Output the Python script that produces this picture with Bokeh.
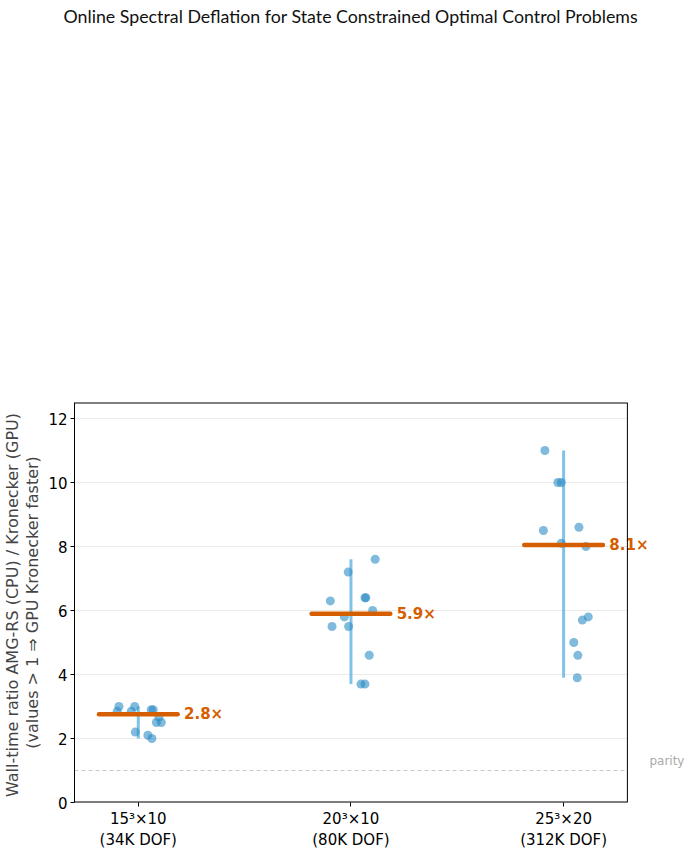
from bokeh.plotting import figure
from bokeh.models import Range1d, FixedTicker, ColumnDataSource, Title
from bokeh.layouts import column
from bokeh.embed import file_html
from bokeh.resources import INLINE
from bokeh.core.properties import value
import numpy as np

# ---- data ----
categories = ["15³×10\n(34K DOF)", "20³×10\n(80K DOF)", "25³×20\n(312K DOF)"]
ratios_15 = [3.0, 3.0, 2.9, 2.9, 2.85, 2.85, 2.66, 2.5, 2.5, 2.2, 2.1, 2.0]
ratios_20 = [7.6, 7.2, 6.3, 6.4, 6.4, 6.0, 5.8, 5.5, 5.5, 4.6, 3.7, 3.7]
ratios_25 = [11.0, 10.0, 10.0, 8.5, 8.6, 8.1, 8.0, 5.8, 5.7, 5.0, 4.6, 3.9]
jitter_15 = [-0.091, -0.017, 0.061, 0.070, -0.099, -0.033, 0.097, 0.085, 0.108, -0.014, 0.045, 0.064]
jitter_20 = [0.114, -0.013, -0.097, 0.066, 0.070, 0.102, -0.031, -0.089, -0.011, 0.086, 0.047, 0.066]
jitter_25 = [-0.088, -0.027, -0.011, -0.095, 0.072, -0.011, 0.105, 0.116, 0.088, 0.048, 0.067, 0.064]
parity_value = 1.0
y_ticks = [0, 2, 4, 6, 8, 10, 12]
title_text = "Online Spectral Deflation for State Constrained Optimal Control Problems"

groups = [ratios_15, ratios_20, ratios_25]
jitters = [jitter_15, jitter_20, jitter_25]

FONT = "DejaVu Sans"
BLUE = "#2b8cc4"
LIGHTBLUE = "#56aee0"
ORANGE = "#d55e00"

X0, X1 = -0.3, 2.3      # visible plot box
Y0, Y1 = 0.0, 12.5

# ---- title strip ----
tf = figure(width=692, height=30, output_backend="svg", toolbar_location=None,
            x_range=Range1d(0, 1), y_range=Range1d(0, 1),
            min_border=0, outline_line_color=None)
tf.axis.visible = False
tf.grid.visible = False
tf.add_layout(Title(text=title_text, align="left", offset=-11, standoff=4,
                    text_font="Lato", text_font_size="17.8px", text_font_style="normal",
                    text_color="#111111"), "above")

# ---- main plot ----
p = figure(width=692, height=822, output_backend="svg", toolbar_location=None,
           x_range=Range1d(X0, X0 + 619 / 213), y_range=Range1d(Y0, Y1),
           min_border_left=73, min_border_right=0, min_border_bottom=48, min_border_top=372)

p.outline_line_color = None
p.background_fill_color = "white"
p.border_fill_color = "white"
p.grid.visible = False

p.yaxis.ticker = FixedTicker(ticks=y_ticks)
p.xaxis.ticker = FixedTicker(ticks=[0, 1, 2])
p.xaxis.major_label_overrides = {i: c for i, c in enumerate(categories)}

for ax in (p.xaxis[0], p.yaxis[0]):
    ax.axis_line_color = "black"
    ax.major_tick_line_color = "black"
    ax.major_tick_out = 4
    ax.major_tick_in = 0
    ax.minor_tick_line_color = None
    ax.major_label_text_font = FONT
    ax.major_label_text_font_size = "15px"
    ax.major_label_text_color = "black"
    ax.axis_label_text_font = FONT
    ax.axis_label_text_font_style = "normal"
    ax.axis_label_text_font_size = "16px"
p.xaxis.axis_line_color = None
p.xaxis.major_label_standoff = 3
p.yaxis.major_label_standoff = 3
p.yaxis.axis_label = "Wall-time ratio  AMG-RS (CPU) / Kronecker (GPU)\n(values > 1 ⇒ GPU Kronecker faster)"
p.yaxis.axis_label_standoff = 3
p.yaxis.axis_label_text_line_height = 1.05

# horizontal grid lines, limited to the plot box
p.segment(x0=[X0] * len(y_ticks), y0=y_ticks, x1=[X1] * len(y_ticks), y1=y_ticks,
          line_color="#ebebeb", line_width=1)

# parity line
p.segment(x0=[X0], y0=[parity_value], x1=[X1], y1=[parity_value], line_color="#c8c8c8",
          line_dash="4 3", line_width=1)
p.text(x=[X1], y=[parity_value], text=["parity"], x_offset=22, y_offset=-3,
       text_font=value(FONT), text_font_size="12px", text_color="#aaaaaa",
       text_baseline="bottom", text_align="left")

for i, (vals, jit) in enumerate(zip(groups, jitters)):
    vals = np.array(vals)
    lo, hi = vals.min(), vals.max()
    med = float(np.median(vals))
    p.segment(x0=[i], y0=[lo], x1=[i], y1=[hi], line_color=LIGHTBLUE, line_width=3, line_alpha=0.75)
    src = ColumnDataSource(dict(x=[i + j for j in jit], y=list(vals)))
    p.scatter("x", "y", source=src, size=9, fill_color=BLUE, fill_alpha=0.6, line_color=None)
    p.segment(x0=[i - 0.185], y0=[med], x1=[i + 0.185], y1=[med], line_color=ORANGE,
              line_width=4.5, line_cap="round")
    p.text(x=[i + 0.215], y=[med], text=[f"{med:.1f}×"], text_font=value(FONT),
           text_font_size="15px", text_font_style="bold", text_color=ORANGE,
           text_baseline="middle", text_align="left")

# plot box (bottom, top, right spines)
p.segment(x0=[X0, X0, X1], y0=[Y0, Y1, Y0], x1=[X1, X1, X1], y1=[Y0, Y1, Y1],
          line_color="black", line_width=[2, 2, 1])

open("out.html", "w").write(file_html(column(tf, p, spacing=0), INLINE))
